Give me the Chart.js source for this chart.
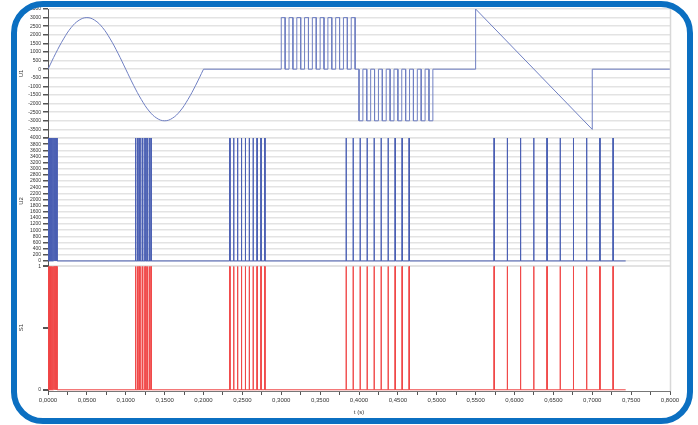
<!DOCTYPE html>
<html><head><meta charset="utf-8">
<script src="https://cdn.jsdelivr.net/npm/chart.js@4.4.1/dist/chart.umd.min.js"></script>
<style>
html,body{margin:0;padding:0;background:#fff;}
#wrap{position:relative;width:698px;height:425px;overflow:hidden;background:#fff;}
#c{position:absolute;left:0;top:0;}
#frame{position:absolute;left:11px;top:1px;width:670px;height:411px;border:6px solid #0b6fc1;border-radius:32px;pointer-events:none;}
</style></head><body>
<div id="wrap"><canvas id="c" width="698" height="425"></canvas><div id="frame"></div></div>
<script>
// ---- data ----
const xMin = 0, xMax = 0.8;
const u1SineT = [0,0.01,0.02,0.03,0.04,0.05,0.06,0.07,0.08,0.09,0.10,0.11,0.12,0.13,0.14,0.15,0.16,0.17,0.18,0.19,0.20];
const u1SineV = [0,930,1760,2430,2850,3000,2850,2430,1760,930,0,-930,-1760,-2430,-2850,-3000,-2850,-2430,-1760,-930,0];
const u1PosPulseT = [0.300,0.310,0.320,0.330,0.340,0.350,0.360,0.370,0.380,0.390];
const u1NegPulseT = [0.400,0.410,0.420,0.430,0.440,0.450,0.460,0.470,0.480,0.490];
const u1PulseLen = 0.005;
const u1PulseLevel = [3000, -3000];
const u1RampT = [0.55, 0.70];
const u1RampV = [3500, -3500];
const u1EndT = 0.8;
const pulseT = [
  0.0005,0.0017,0.0029,0.0041,0.0053,0.0065,0.0077,0.0089,0.0101,0.0113,
  0.1125,0.1147,0.1169,0.1191,0.1213,0.1235,0.1257,0.1279,0.1301,0.1323,
  0.2337,0.2387,0.2437,0.2487,0.2537,0.2587,0.2637,0.2687,0.2737,0.2787,
  0.3833,0.3923,0.4013,0.4103,0.4193,0.4283,0.4373,0.4463,0.4553,0.4643,
  0.5736,0.5906,0.6076,0.6246,0.6416,0.6586,0.6756,0.6926,0.7096,0.7266
];
const pulseLen = 0.0004;
const u2High = 4000;
const s1High = 1;
const pulseEndT = 0.743;
const u1TickValues = [-4000,-3500,-3000,-2500,-2000,-1500,-1000,-500,0,500,1000,1500,2000,2500,3000,3500];
const u2TickValues = [0,200,400,600,800,1000,1200,1400,1600,1800,2000,2200,2400,2600,2800,3000,3200,3400,3600,3800,4000];
const s1TickValues = [0,0.5,1];

// ---- build point lists ----
const sinePts = u1SineT.map((t,i)=>({x:t,y:u1SineV[i]}));
const u1Pts = [{x:u1SineT[u1SineT.length-1],y:0},{x:u1PosPulseT[0],y:0}];
u1PosPulseT.forEach(t=>{u1Pts.push({x:t,y:0},{x:t,y:u1PulseLevel[0]},{x:t+u1PulseLen,y:u1PulseLevel[0]},{x:t+u1PulseLen,y:0});});
u1NegPulseT.forEach(t=>{u1Pts.push({x:t,y:0},{x:t,y:u1PulseLevel[1]},{x:t+u1PulseLen,y:u1PulseLevel[1]},{x:t+u1PulseLen,y:0});});
u1Pts.push({x:u1RampT[0],y:0},{x:u1RampT[0],y:u1RampV[0]},{x:u1RampT[1],y:u1RampV[1]},{x:u1RampT[1],y:0},{x:u1EndT,y:0});
function pulses(h){
  const p=[{x:0,y:0}];
  pulseT.forEach(t=>{p.push({x:t,y:0},{x:t,y:h},{x:t+pulseLen,y:h},{x:t+pulseLen,y:0});});
  p.push({x:pulseEndT,y:0});
  return p;
}

const FONT = "'Liberation Sans', Arial, sans-serif";
const rightBorder = {
  id:'rightBorder',
  afterDraw(chart){
    const a=chart.chartArea, c=chart.ctx;
    c.save(); c.strokeStyle='#d8d8d8'; c.lineWidth=1.5;
    c.beginPath(); c.moveTo(a.right+0.5,a.top); c.lineTo(a.right+0.5,a.bottom); c.stroke(); c.restore();
  }
};
function yAxis(extra){
  return Object.assign({
    type:'linear', position:'left', stack:'v', offset:false,
    border:{display:true,color:'#555',width:1},
    grid:{color:'#e3e3e3',lineWidth:1.5,tickColor:'#555',tickLength:5,drawTicks:true},
    afterFit(s){s.width=34;}
  },extra);
}
const tickFont = {family:FONT,size:5};
const titleFont = {family:FONT,size:6};

new Chart(document.getElementById('c'),{
  type:'line',
  data:{datasets:[
    {data:sinePts,yAxisID:'u1',borderColor:'#6f7fc2',borderWidth:1,pointRadius:0,tension:0.4},
    {data:u1Pts,yAxisID:'u1',borderColor:'#6f7fc2',borderWidth:1,pointRadius:0,tension:0},
    {data:pulses(u2High),yAxisID:'u2',borderColor:'#4a5fb3',borderWidth:1,pointRadius:0,tension:0},
    {data:pulses(s1High),yAxisID:'s1',borderColor:'#f04848',borderWidth:1,pointRadius:0,tension:0}
  ]},
  options:{
    responsive:false, animation:false,
    layout:{padding:{left:14,right:28,top:9,bottom:9}},
    plugins:{legend:{display:false},tooltip:{enabled:false}},
    scales:{
      x:{type:'linear',min:xMin,max:xMax,
        border:{display:true,color:'#777',width:1},
        grid:{drawOnChartArea:false,drawTicks:true,tickLength:4,tickColor:'#555'},
        ticks:{stepSize:0.025,autoSkip:false,maxRotation:0,font:{family:FONT,size:6},color:'#333',padding:2,
          callback(v){const k=Math.round(v/0.025);return k%2===0?(k*0.025).toFixed(4).replace('.',','):'';}},
        title:{display:true,text:'t (s)',font:titleFont,color:'#333',padding:{top:1,bottom:0}},
        afterFit(s){s.height=25;}
      },
      s1:yAxis({stackWeight:127,min:-0.01,max:1.02,
        afterBuildTicks(s){s.ticks=s1TickValues.map(v=>({value:v}));},
        grid:{color:c=>(c.tick&&c.tick.value===1)?'#e3e3e3':'rgba(0,0,0,0)',lineWidth:2,tickColor:'#555',tickLength:5},
        ticks:{font:tickFont,color:'#333',padding:2,autoSkip:false,callback:v=>v===0.5?'':String(v)},
        title:{display:true,text:'S1',font:titleFont,color:'#333',padding:{top:4,bottom:0}}}),
      u2:yAxis({stackWeight:126,min:-100,max:4000,
        afterBuildTicks(s){s.ticks=u2TickValues.map(v=>({value:v}));},
        ticks:{font:tickFont,color:'#333',padding:2,autoSkip:false,callback:v=>String(v)},
        title:{display:true,text:'U2',font:titleFont,color:'#333',padding:{top:4,bottom:0}}}),
      u1:yAxis({stackWeight:129,min:-4000,max:3500,
        afterBuildTicks(s){s.ticks=u1TickValues.map(v=>({value:v}));},
        ticks:{font:tickFont,color:'#333',padding:2,autoSkip:false,callback:v=>v===-4000?'':String(v)},
        title:{display:true,text:'U1',font:titleFont,color:'#333',padding:{top:4,bottom:0}}})
    }
  },
  plugins:[rightBorder]
});
</script>
</body></html>
